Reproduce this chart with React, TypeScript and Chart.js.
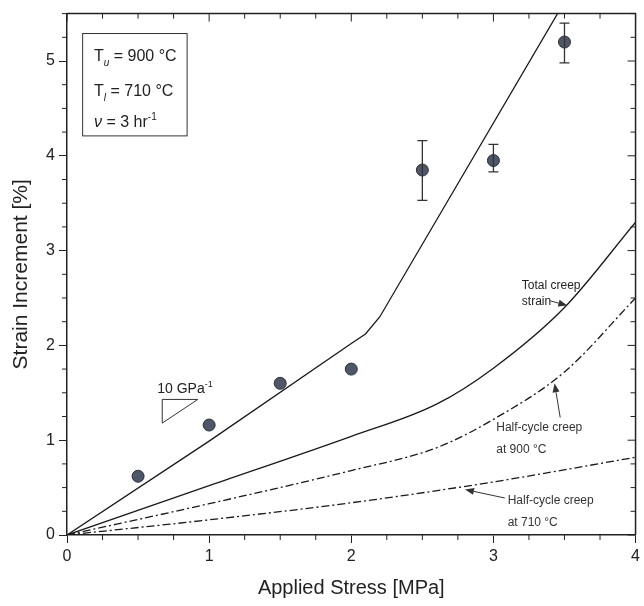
import React, { useEffect, useRef } from "react";
import { Chart, registerables } from "chart.js";

Chart.register(...registerables);

// ---- data ----
const upperX = [0, 1, 2, 2.1, 2.2, 3.6];
const upperY = [0, 0.99, 2.02, 2.12, 2.3, 5.88];

const totalX = [0, 1, 2, 2.6, 3, 3.5, 4];
const totalY = [0, 0.52, 1.04, 1.38, 1.76, 2.4, 3.3];

const half900X = [0, 1, 2, 2.6, 3, 3.5, 4];
const half900Y = [0, 0.33, 0.68, 0.92, 1.22, 1.72, 2.5];

const half710X = [0, 1, 2, 3, 4];
const half710Y = [0, 0.16, 0.34, 0.56, 0.82];

const expX = [0.5, 1, 1.5, 2, 2.5, 3, 3.5];
const expY = [0.62, 1.16, 1.6, 1.75, 3.85, 3.95, 5.2];
const expLow: (number | null)[] = [null, null, null, null, 3.53, 3.83, 4.98];
const expHigh: (number | null)[] = [null, null, null, null, 4.16, 4.12, 5.4];

const xTicks = [0, 1, 2, 3, 4];
const yTicks = [0, 1, 2, 3, 4, 5];

const FONT = "'Liberation Sans', Arial, sans-serif";

function pts(xs: number[], ys: number[]) {
  return xs.map((x, i) => ({ x, y: ys[i] }));
}

type Part = { t: string; italic?: boolean; sub?: boolean; sup?: boolean };

function drawRich(ctx: CanvasRenderingContext2D, x: number, y: number, parts: Part[], size: number) {
  let cx = x;
  ctx.textBaseline = "alphabetic";
  ctx.textAlign = "left";
  for (const p of parts) {
    const s = p.sub || p.sup ? Math.round(size * 0.62) : size;
    ctx.font = `${p.italic ? "italic " : ""}${s}px ${FONT}`;
    const dy = p.sub ? size * 0.3 : p.sup ? -size * 0.45 : 0;
    ctx.fillText(p.t, cx, y + dy);
    cx += ctx.measureText(p.t).width;
  }
}

function arrow(ctx: CanvasRenderingContext2D, x1: number, y1: number, x2: number, y2: number) {
  const ang = Math.atan2(y2 - y1, x2 - x1);
  const hl = 9, hw = 3.5;
  ctx.strokeStyle = "#333";
  ctx.fillStyle = "#333";
  ctx.lineWidth = 1;
  ctx.beginPath();
  ctx.moveTo(x1, y1);
  ctx.lineTo(x2 - Math.cos(ang) * hl, y2 - Math.sin(ang) * hl);
  ctx.stroke();
  ctx.beginPath();
  ctx.moveTo(x2, y2);
  ctx.lineTo(x2 - Math.cos(ang) * hl - Math.sin(ang) * hw, y2 - Math.sin(ang) * hl + Math.cos(ang) * hw);
  ctx.lineTo(x2 - Math.cos(ang) * hl + Math.sin(ang) * hw, y2 - Math.sin(ang) * hl - Math.cos(ang) * hw);
  ctx.closePath();
  ctx.fill();
}

const decorPlugin = {
  id: "decor",
  afterDatasetsDraw(chart: any) {
    const ctx: CanvasRenderingContext2D = chart.ctx;
    const xs = chart.scales.x;
    const ys = chart.scales.y;
    const X = (v: number) => xs.getPixelForValue(v);
    const Y = (v: number) => ys.getPixelForValue(v);
    const { left, right, top, bottom } = chart.chartArea;
    ctx.save();

    // error bars
    ctx.strokeStyle = "#333";
    ctx.lineWidth = 1.3;
    expX.forEach((xv, i) => {
      const lo = expLow[i], hi = expHigh[i];
      if (lo == null || hi == null) return;
      const px = X(xv);
      ctx.beginPath();
      ctx.moveTo(px, Y(lo));
      ctx.lineTo(px, Y(hi));
      ctx.moveTo(px - 5, Y(lo));
      ctx.lineTo(px + 5, Y(lo));
      ctx.moveTo(px - 5, Y(hi));
      ctx.lineTo(px + 5, Y(hi));
      ctx.stroke();
    });

    // frame top/right
    ctx.strokeStyle = "#222";
    ctx.lineWidth = 1.5;
    ctx.beginPath();
    ctx.moveTo(left, top);
    ctx.lineTo(right, top);
    ctx.lineTo(right, bottom);
    ctx.stroke();

    // ticks
    ctx.lineWidth = 1;
    ctx.beginPath();
    for (let v = 0; v <= 4.0001; v += 0.25) {
      const px = X(v);
      const major = Math.abs(v - Math.round(v)) < 1e-6;
      const len = major ? 8 : 5;
      if (!major) {
        ctx.moveTo(px, bottom);
        ctx.lineTo(px, bottom + len);
      }
      ctx.moveTo(px, top);
      ctx.lineTo(px, top + len);
    }
    for (let v = 0; v <= 5.5001; v += 0.25) {
      const py = Y(v);
      const major = Math.abs(v - Math.round(v)) < 1e-6;
      const len = major ? 8 : 5;
      if (!major) {
        ctx.moveTo(left, py);
        ctx.lineTo(left - len, py);
      }
      ctx.moveTo(right, py);
      ctx.lineTo(right - len, py);
    }
    ctx.stroke();

    // legend box
    ctx.fillStyle = "#fff";
    ctx.strokeStyle = "#333";
    ctx.lineWidth = 1;
    const bx1 = X(0.11), bx2 = X(0.845), by1 = Y(5.29), by2 = Y(4.21);
    ctx.fillRect(bx1, by1, bx2 - bx1, by2 - by1);
    ctx.strokeRect(bx1, by1, bx2 - bx1, by2 - by1);
    ctx.fillStyle = "#222";
    const tx = X(0.19);
    drawRich(ctx, tx, Y(5.0), [{ t: "T" }, { t: "u", sub: true, italic: true }, { t: " = 900 °C" }], 16);
    drawRich(ctx, tx, Y(4.63), [{ t: "T" }, { t: "l", sub: true, italic: true }, { t: " = 710 °C" }], 16);
    drawRich(ctx, tx, Y(4.3), [{ t: "ν", italic: true }, { t: " = 3 hr" }, { t: "-1", sup: true }], 16);

    // slope triangle
    drawRich(ctx, X(0.635), Y(1.5), [{ t: "10 GPa" }, { t: "-1", sup: true }], 14);
    ctx.strokeStyle = "#333";
    ctx.lineWidth = 1;
    ctx.beginPath();
    ctx.moveTo(X(0.67), Y(1.43));
    ctx.lineTo(X(0.92), Y(1.43));
    ctx.lineTo(X(0.67), Y(1.18));
    ctx.closePath();
    ctx.stroke();

    // labels
    ctx.fillStyle = "#222";
    drawRich(ctx, X(3.2), Y(2.6), [{ t: "Total creep" }], 12);
    drawRich(ctx, X(3.2), Y(2.43), [{ t: "strain" }], 12);
    arrow(ctx, X(3.4), Y(2.47), X(3.52), Y(2.42));

    drawRich(ctx, X(3.02), Y(1.1), [{ t: "Half-cycle creep" }], 12);
    drawRich(ctx, X(3.02), Y(0.86), [{ t: "at 900 °C" }], 12);
    arrow(ctx, X(3.47), Y(1.24), X(3.43), Y(1.6));

    drawRich(ctx, X(3.1), Y(0.33), [{ t: "Half-cycle creep" }], 12);
    drawRich(ctx, X(3.1), Y(0.09), [{ t: "at 710 °C" }], 12);
    arrow(ctx, X(3.08), Y(0.39), X(2.8), Y(0.48));

    ctx.restore();
  },
};

export default function App() {
  const ref = useRef<HTMLCanvasElement>(null);
  useEffect(() => {
    if (!ref.current) return;
    const lineDs = (label: string, data: any[], dash: number[], smooth: boolean) => ({
      type: "line" as const,
      label,
      data,
      showLine: true,
      borderColor: "#1a1a1a",
      borderWidth: 1.3,
      borderDash: dash,
      pointRadius: 0,
      tension: smooth ? 0.4 : 0,
      cubicInterpolationMode: smooth ? ("monotone" as const) : ("default" as const),
      fill: false,
    });
    const chart = new Chart(ref.current, {
      type: "scatter",
      data: {
        datasets: [
          lineDs("upper", pts(upperX, upperY), [], false),
          lineDs("total", pts(totalX, totalY), [], true),
          lineDs("half900", pts(half900X, half900Y), [8, 3, 2, 3], true),
          lineDs("half710", pts(half710X, half710Y), [8, 3, 2, 3], true),
          {
            type: "scatter" as const,
            label: "exp",
            data: pts(expX, expY),
            pointRadius: 6,
            pointBackgroundColor: "#50566a",
            pointBorderColor: "#2c2f3a",
            pointBorderWidth: 1,
          } as any,
        ],
      },
      options: {
        responsive: false,
        animation: false,
        layout: { padding: { top: 10, right: 4, left: 0, bottom: 0 } },
        plugins: { legend: { display: false }, tooltip: { enabled: false } },
        scales: {
          x: {
            type: "linear",
            min: 0,
            max: 4,
            afterBuildTicks: (s: any) => {
              s.ticks = xTicks.map((v) => ({ value: v }));
            },
            afterFit: (s: any) => {
              s.height = 71;
            },
            ticks: { font: { family: FONT, size: 16 }, color: "#222", padding: 4 },
            grid: { drawOnChartArea: false, drawTicks: true, tickLength: 8, color: "#222", lineWidth: 1 },
            border: { color: "#222", width: 1.5 },
            title: {
              display: true,
              text: "Applied Stress [MPa]",
              font: { family: FONT, size: 20 },
              color: "#222",
              padding: { top: 0, bottom: 6 },
            },
          },
          y: {
            type: "linear",
            min: 0,
            max: 5.5,
            afterBuildTicks: (s: any) => {
              s.ticks = yTicks.map((v) => ({ value: v }));
            },
            afterFit: (s: any) => {
              s.width = 67;
            },
            ticks: { font: { family: FONT, size: 16 }, color: "#222", padding: 4 },
            grid: { drawOnChartArea: false, drawTicks: true, tickLength: 8, color: "#222", lineWidth: 1 },
            border: { color: "#222", width: 1.5 },
            title: {
              display: true,
              text: "Strain Increment [%]",
              font: { family: FONT, size: 21 },
              color: "#222",
              padding: { top: 9, bottom: 0 },
            },
          },
        },
      },
      plugins: [decorPlugin],
    });
    return () => chart.destroy();
  }, []);
  return (
    <div style={{ position: "absolute", left: 0, top: 0, width: 644, height: 606, background: "#fff" }}>
      <canvas ref={ref} width={644} height={606} style={{ display: "block" }} />
    </div>
  );
}
